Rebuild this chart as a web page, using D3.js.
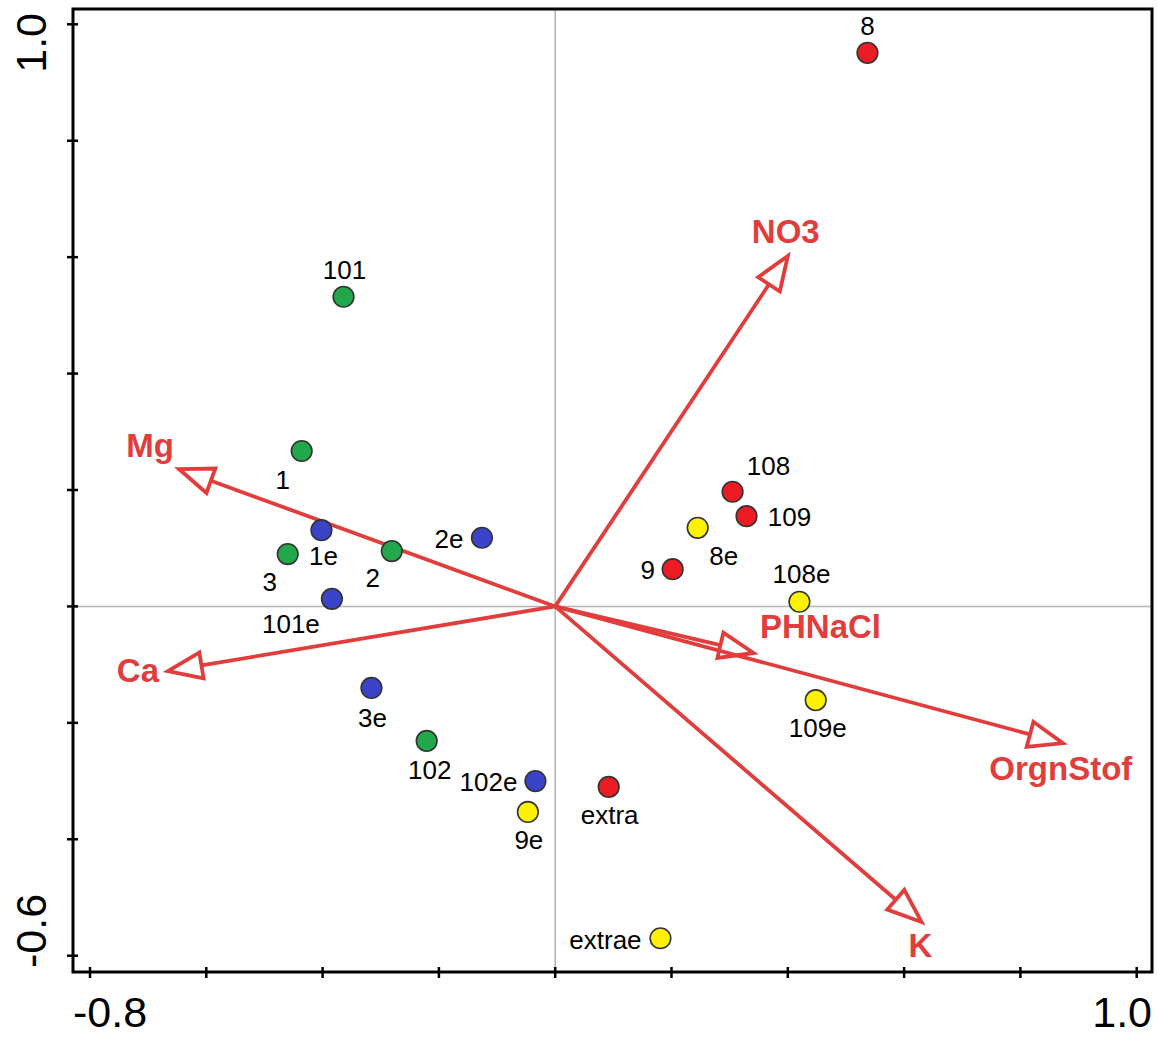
<!DOCTYPE html>
<html><head><meta charset="utf-8">
<script src="https://cdn.jsdelivr.net/npm/d3@7"></script>
<style>html,body{margin:0;padding:0;background:#fff}svg{display:block}</style>
</head><body>
<script>
// ---- data ----
const siteNames = ["8","101","1","108","109","8e","1e","2e","3","2","9","101e","108e","3e","109e","102","102e","extra","9e","extrae"];
const siteX = [0.537,-0.364,-0.436,0.305,0.329,0.245,-0.402,-0.126,-0.460,-0.281,0.202,-0.384,0.420,-0.316,0.448,-0.221,-0.034,0.092,-0.047,0.181];
const siteY = [0.951,0.532,0.267,0.197,0.155,0.135,0.131,0.118,0.090,0.095,0.064,0.013,0.008,-0.140,-0.161,-0.231,-0.300,-0.310,-0.353,-0.570];
const siteGroup = ["red","green","green","red","red","yellow","blue","blue","green","green","red","blue","yellow","blue","yellow","green","blue","red","yellow","yellow"];
const varNames = ["NO3","Mg","Ca","PHNaCl","OrgnStof","K"];
const varX = [0.400,-0.647,-0.666,0.341,0.873,0.630];
const varY = [0.602,0.236,-0.111,-0.080,-0.235,-0.542];
const xTicks = [-0.8,-0.6,-0.4,-0.2,0,0.2,0.4,0.6,0.8,1.0];
const yTicks = [-0.6,-0.4,-0.2,0,0.2,0.4,0.6,0.8,1.0];
const xTickLabels = ["-0.8","1.0"];
const yTickLabels = ["1.0","-0.6"];

// ---- layout / style ----
const W = 1158, H = 1039;
const frame = {l:73, t:9, r:1152, b:972};
const colors = {green:"#22a84a", blue:"#3b44c8", red:"#ec1c24", yellow:"#fff200"};
const red = "#e23d3d";
const siteLabelOffset = {
  "8":[0,-18],"101":[1,-18],"1":[-19,38],"108":[36,-17],"109":[43,10],"8e":[26,37],
  "1e":[2,35],"2e":[-33,10],"3":[-18,37],"2":[-19,36],"9":[-25,10],"101e":[-41,34],
  "108e":[2,-19],"3e":[1,39],"109e":[2,37],"102":[3,38],"102e":[-47,10],"extra":[1,37],
  "9e":[1,37],"extrae":[-55,11]
};
const varLabelOffset = {
  "NO3":[-2,-13],"Mg":[-29,-12],"Ca":[-30,11],"PHNaCl":[67,-15],"OrgnStof":[-2,37],"K":[-1,35]
};

const x = d3.scaleLinear().domain([-0.8,1.0]).range([90,1136.7]);
const y = d3.scaleLinear().domain([-0.6,1.0]).range([955.7,24.3]);

const svg = d3.select("body").append("svg").attr("width",W).attr("height",H)
  .style("font-family","Arial, 'Liberation Sans', sans-serif");

// zero lines
svg.append("line").attr("x1",x(0)).attr("x2",x(0)).attr("y1",frame.t).attr("y2",frame.b)
  .attr("stroke","#b4b4b4").attr("stroke-width",1.5);
svg.append("line").attr("x1",frame.l).attr("x2",frame.r).attr("y1",y(0)).attr("y2",y(0))
  .attr("stroke","#b4b4b4").attr("stroke-width",1.5);

// arrows
const vars = varNames.map((n,i)=>({name:n, x:varX[i], y:varY[i]}));
const headLen = 34, headHalf = 13;
const ag = svg.append("g");
vars.forEach(v=>{
  const x0=x(0), y0=y(0), x1=x(v.x), y1=y(v.y);
  const dx=x1-x0, dy=y1-y0, L=Math.hypot(dx,dy), ux=dx/L, uy=dy/L;
  const bx=x1-ux*headLen, by=y1-uy*headLen;
  ag.append("line").attr("x1",x0).attr("y1",y0).attr("x2",bx).attr("y2",by)
    .attr("stroke",red).attr("stroke-width",3.8).attr("stroke-linecap","round");
  const pts=[[x1,y1],[bx-uy*headHalf,by+ux*headHalf],[bx+uy*headHalf,by-ux*headHalf]];
  ag.append("polygon").attr("points",pts.map(p=>p.join(",")).join(" "))
    .attr("fill","#fff").attr("stroke",red).attr("stroke-width",3.8).attr("stroke-linejoin","miter");
  const o=varLabelOffset[v.name];
  ag.append("text").attr("x",x1+o[0]).attr("y",y1+o[1]).attr("text-anchor","middle")
    .attr("font-size",33).attr("font-weight","bold").attr("fill",red).text(v.name);
});

// points
const sites = siteNames.map((n,i)=>({name:n, x:siteX[i], y:siteY[i], g:siteGroup[i]}));
const pg = svg.append("g");
pg.selectAll("circle").data(sites).join("circle")
  .attr("cx",d=>x(d.x)).attr("cy",d=>y(d.y)).attr("r",10.3)
  .attr("fill",d=>colors[d.g]).attr("stroke","#333").attr("stroke-width",1.6);
pg.selectAll("text").data(sites).join("text")
  .attr("x",d=>x(d.x)+siteLabelOffset[d.name][0]).attr("y",d=>y(d.y)+siteLabelOffset[d.name][1])
  .attr("text-anchor","middle").attr("font-size",26).attr("fill","#000").text(d=>d.name);

// frame
svg.append("rect").attr("x",frame.l).attr("y",frame.t).attr("width",frame.r-frame.l).attr("height",frame.b-frame.t)
  .attr("fill","none").attr("stroke","#000").attr("stroke-width",3);

// ticks
svg.append("g").selectAll("line").data(xTicks).join("line")
  .attr("x1",d=>x(d)).attr("x2",d=>x(d)).attr("y1",frame.b-5).attr("y2",frame.b+6)
  .attr("stroke","#000").attr("stroke-width",2.5);
svg.append("g").selectAll("line").data(yTicks).join("line")
  .attr("y1",d=>y(d)).attr("y2",d=>y(d)).attr("x1",frame.l-6).attr("x2",frame.l+5)
  .attr("stroke","#000").attr("stroke-width",2.5);

// tick labels (aligned to frame ends)
svg.append("text").attr("x",frame.l).attr("y",1027).attr("text-anchor","start")
  .attr("font-size",43).text(xTickLabels[0]);
svg.append("text").attr("x",frame.r).attr("y",1027).attr("text-anchor","end")
  .attr("font-size",43).text(xTickLabels[1]);
svg.append("text").attr("transform",`translate(46,${frame.t+4}) rotate(-90)`).attr("text-anchor","end")
  .attr("font-size",43).text(yTickLabels[0]);
svg.append("text").attr("transform",`translate(46,${frame.b-4}) rotate(-90)`).attr("text-anchor","start")
  .attr("font-size",43).text(yTickLabels[1]);
</script>
</body></html>
